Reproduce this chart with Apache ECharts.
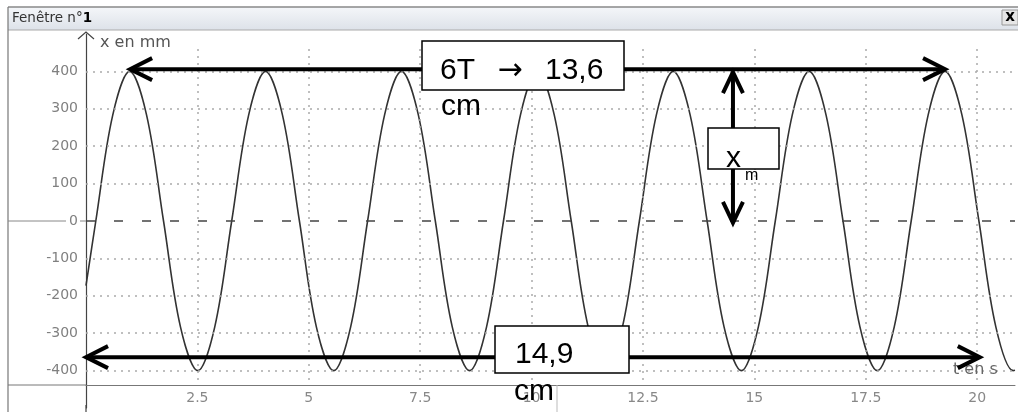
<!DOCTYPE html>
<html><head><meta charset="utf-8">
<script src="https://cdn.jsdelivr.net/npm/echarts@6/dist/echarts.min.js"></script>
<style>html,body{margin:0;padding:0;background:#fff}#c{width:1018px;height:412px}</style>
</head><body><div id="c"></div>
<script>
// time in seconds
const timeS = [0, 0.22, 0.60,
  0.98, 1.36, 1.74, 2.12, 2.51, 2.89, 3.27, 3.65,
  4.03, 4.41, 4.79, 5.17, 5.56, 5.94, 6.32, 6.70,
  7.08, 7.46, 7.84, 8.22, 8.61, 8.99, 9.37, 9.75,
  10.13, 10.51, 10.89, 11.27, 11.66, 12.04, 12.42, 12.80,
  13.18, 13.56, 13.94, 14.32, 14.71, 15.09, 15.47, 15.85,
  16.23, 16.61, 16.99, 17.37, 17.76, 18.14, 18.52, 18.90,
  19.28, 19.66, 20.04, 20.42, 20.81, 20.85];
// position x in mm
const positionMm = [-173, 0, 283,
  400, 283, 0, -283, -400, -283, 0, 283,
  400, 283, 0, -283, -400, -283, 0, 283,
  400, 283, 0, -283, -400, -283, 0, 283,
  400, 283, 0, -283, -400, -283, 0, 283,
  400, 283, 0, -283, -400, -283, 0, 283,
  400, 283, 0, -283, -400, -283, 0, 283,
  400, 283, 0, -283, -400, -399];
const yGridValues = [-400, -300, -200, -100, 100, 200, 300, 400];
const xGridValues = [2.5, 5, 7.5, 10, 12.5, 15, 17.5, 20];
const xLabelValues = [2.5, 5, 7.5, 10, 12.5, 15, 17.5, 20];
// annotations (data coordinates)
const periodArrowT = [0.99, 19.28];
const periodArrowX = 406;
const lengthArrowT = [0, 20.06];
const lengthArrowX = -364;
const ampArrowT = 14.52;
const ampArrowX = [398, -5];

const chart = echarts.init(document.getElementById('c'), null, {renderer: 'canvas'});
const seriesData = timeS.map((t, i) => [t, positionMm[i]]);

const hLines = yGridValues.map(v => ({yAxis: v}));
const vLines = xGridValues.map(v => [{coord: [v, 460]}, {coord: [v, -437]}]);
const zeroLine = {yAxis: 0, lineStyle: {color: '#444', type: [9, 19], width: 1.5}};

chart.setOption({
  animation: false,
  backgroundColor: '#fff',
  grid: {left: 86, right: 3, top: 34, bottom: 4},
  xAxis: {
    type: 'value', min: 0, max: 20.85, interval: 2.5, offset: -23,
    axisLine: {show: true, onZero: false, lineStyle: {color: '#777', width: 1}},
    axisTick: {show: false},
    splitLine: {show: false},
    axisLabel: {
      margin: 6, color: '#888', fontFamily: 'DejaVu Sans', fontSize: 14,
      formatter: v => xLabelValues.indexOf(Math.round(v * 100) / 100) >= 0 ? String(v) : ''
    }
  },
  yAxis: {
    type: 'value', min: -500, max: 500, interval: 100,
    axisLine: {show: true, lineStyle: {color: '#444', width: 1.2}},
    axisTick: {show: false},
    splitLine: {show: false},
    axisLabel: {
      margin: 8, color: '#808080', fontFamily: 'DejaVu Sans', fontSize: 14,
      formatter: v => (v === 500 || v === -500) ? '' : String(v)
    }
  },
  series: [{
    type: 'line', data: seriesData, smooth: 0.35, showSymbol: false,
    lineStyle: {color: '#333', width: 1.6},
    markLine: {
      silent: true, symbol: 'none', label: {show: false}, animation: false,
      lineStyle: {color: '#aaa', type: [2, 5], width: 1.5},
      data: hLines.concat(vLines).concat([zeroLine])
    },
    z: 3
  }]
});

function px(t, v) { return chart.convertToPixel({gridIndex: 0}, [t, v]); }
const K = '#000';
const g = [];
// window chrome
g.push({type: 'rect', z: 90, shape: {x: 8, y: 7, width: 1010, height: 23},
  style: {fill: new echarts.graphic.LinearGradient(0, 0, 0, 1, [{offset: 0, color: '#f4f6f9'}, {offset: 1, color: '#dde2e9'}]), stroke: null}});
g.push({type: 'line', z: 91, shape: {x1: 8, y1: 7, x2: 1018, y2: 7}, style: {stroke: '#888', lineWidth: 1.5}});
g.push({type: 'line', z: 91, shape: {x1: 8, y1: 30, x2: 1018, y2: 30}, style: {stroke: '#aaa', lineWidth: 1}});
g.push({type: 'line', z: 91, shape: {x1: 8, y1: 7, x2: 8, y2: 412}, style: {stroke: '#777', lineWidth: 1.2}});
g.push({type: 'text', z: 92, x: 12, y: 18, style: {text: '{a|Fenêtre n°}{b|1}', verticalAlign: 'middle',
  rich: {a: {fontFamily: 'DejaVu Sans', fontSize: 13.5, fill: '#333', color: '#333'}, b: {fontFamily: 'DejaVu Sans', fontSize: 13.5, fontWeight: 'bold', fill: '#000', color: '#000'}}}});
g.push({type: 'rect', z: 92, shape: {x: 1002, y: 10, width: 16, height: 15}, style: {fill: '#e6e6e6', stroke: '#999', lineWidth: 1}});
g.push({type: 'text', z: 93, x: 1010, y: 17, style: {text: 'x', fontFamily: 'DejaVu Sans', fontSize: 15, fontWeight: 'bold', fill: '#000', align: 'center', verticalAlign: 'middle'}});
// axis extras
const o = px(0, 0);
g.push({type: 'line', z: 91, shape: {x1: 8, y1: 385, x2: o[0], y2: 385}, style: {stroke: '#777', lineWidth: 1}});
g.push({type: 'line', z: 91, shape: {x1: o[0], y1: 405, x2: o[0], y2: 412}, style: {stroke: '#444', lineWidth: 1.2}});
g.push({type: 'line', z: 91, shape: {x1: 557, y1: 385, x2: 557, y2: 412}, style: {stroke: '#bbb', lineWidth: 1}});
g.push({type: 'line', z: 91, shape: {x1: 8, y1: o[1], x2: 66, y2: o[1]}, style: {stroke: '#888', lineWidth: 1}});
g.push({type: 'line', z: 91, shape: {x1: 80, y1: o[1], x2: o[0], y2: o[1]}, style: {stroke: '#888', lineWidth: 1}});
g.push({type: 'polyline', z: 91, shape: {points: [[o[0] - 8, 39], [o[0], 32], [o[0] + 8, 39]]}, style: {stroke: '#444', lineWidth: 1.2, fill: null}});
g.push({type: 'text', z: 92, x: 100, y: 43, style: {text: 'x en mm', fontFamily: 'DejaVu Sans', fontSize: 16, fill: '#555', verticalAlign: 'middle'}});
g.push({type: 'text', z: 92, x: 953, y: 370, style: {text: 't en s', fontFamily: 'DejaVu Sans', fontSize: 16, fill: '#666', verticalAlign: 'middle'}});

// annotation arrows
function hArrow(t0, t1, v) {
  const a = px(t0, v), b = px(t1, v);
  g.push({type: 'line', z: 100, shape: {x1: a[0] + 2, y1: a[1], x2: b[0] - 2, y2: b[1]}, style: {stroke: K, lineWidth: 4}});
  g.push({type: 'polyline', z: 100, shape: {points: [[a[0] + 22, a[1] - 11], [a[0], a[1]], [a[0] + 22, a[1] + 11]]}, style: {stroke: K, lineWidth: 4, fill: null}});
  g.push({type: 'polyline', z: 100, shape: {points: [[b[0] - 22, b[1] - 11], [b[0], b[1]], [b[0] - 22, b[1] + 11]]}, style: {stroke: K, lineWidth: 4, fill: null}});
}
hArrow(periodArrowT[0], periodArrowT[1], periodArrowX);
hArrow(lengthArrowT[0], lengthArrowT[1], lengthArrowX);
(function () {
  const a = px(ampArrowT, ampArrowX[0]), b = px(ampArrowT, ampArrowX[1]);
  g.push({type: 'line', z: 100, shape: {x1: a[0], y1: a[1] + 2, x2: b[0], y2: b[1] - 2}, style: {stroke: K, lineWidth: 4}});
  g.push({type: 'polyline', z: 100, shape: {points: [[a[0] - 10, a[1] + 21], [a[0], a[1]], [a[0] + 10, a[1] + 21]]}, style: {stroke: K, lineWidth: 4, fill: null}});
  g.push({type: 'polyline', z: 100, shape: {points: [[b[0] - 10, b[1] - 21], [b[0], b[1]], [b[0] + 10, b[1] - 21]]}, style: {stroke: K, lineWidth: 4, fill: null}});
})();
// boxes
function box(x, y, w, h) {
  g.push({type: 'rect', z: 101, shape: {x: x, y: y, width: w, height: h}, style: {fill: '#fff', stroke: K, lineWidth: 1.5}});
}
box(422, 41, 202, 49);
box(708, 128, 71, 41);
box(495, 326, 134, 47);
function txt(s, x, y, size, align, family) {
  g.push({type: 'text', z: 102, x: x, y: y, style: {text: s, fontFamily: family || 'Liberation Sans', fontSize: size, fill: K, align: align || 'left', verticalAlign: 'middle'}});
}
txt('6T', 440, 71, 30);
txt('→', 510, 71, 30, 'center', 'DejaVu Sans');
txt('13,6', 545, 71, 30);
txt('cm', 441, 107, 30);
txt('x', 726, 159, 30);
txt('m', 745, 176, 16);
txt('14,9', 515, 355, 30);
txt('cm', 514, 392, 30);

chart.setOption({graphic: {elements: g}});
</script>
</body></html>
